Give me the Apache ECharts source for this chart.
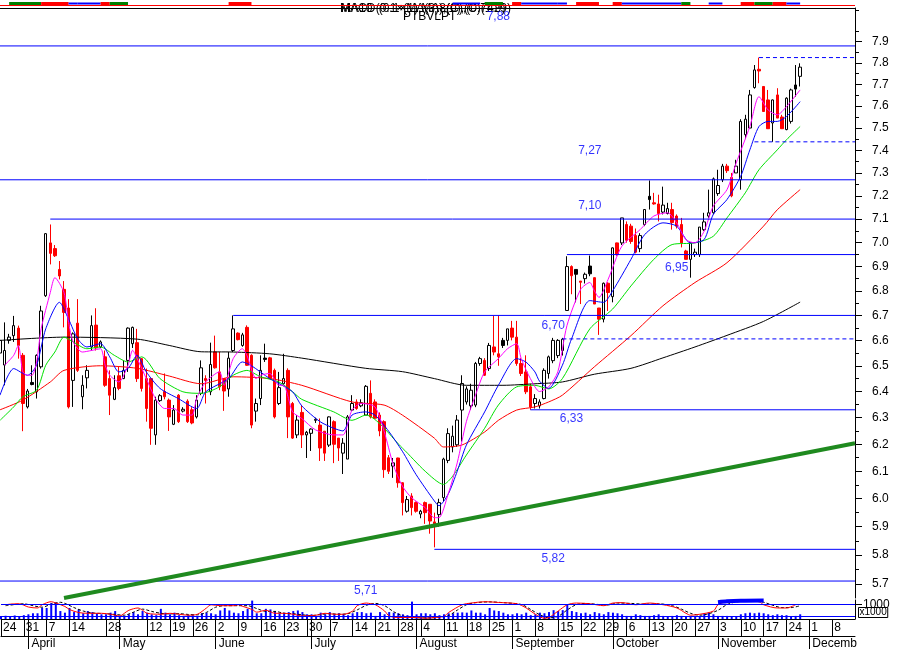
<!DOCTYPE html>
<html>
<head>
<meta charset="utf-8">
<script src="https://cdn.jsdelivr.net/npm/echarts@6.0.0/dist/echarts.min.js"></script>
<style>html,body{margin:0;padding:0;background:#fff;}#chart{width:901px;height:650px;}</style>
</head>
<body>
<div id="chart"></div>
<script>
// ---------------- DATA ----------------
const startDate = '2014-03-24';
const endDate = '2014-12-15';
const holidays = ['2014-04-18', '2014-04-21', '2014-05-05'];

const opens = [6.55,6.503,6.600,6.619,6.649,6.541,6.341,6.435,6.399,6.496,
6.780,6.999,6.975,6.888,6.806,6.730,6.443,6.669,6.380,6.453,
6.574,6.661,6.574,6.535,6.450,6.370,6.461,6.450,6.521,6.587,
6.591,6.528,6.450,6.450,6.235,6.365,6.400,6.367,6.275,6.386,
6.325,6.363,6.330,6.303,6.393,6.450,6.399,6.554,6.476,6.450,
6.410,6.560,6.629,6.580,6.652,6.541,6.325,6.373,6.530,6.531,
6.482,6.354,6.430,6.482,6.354,6.235,6.320,6.235,6.241,6.290,
6.272,6.249,6.197,6.285,6.223,6.167,6.145,6.329,6.360,6.345,
6.310,6.393,6.360,6.310,6.285,6.150,6.119,6.149,6.058,5.955,
6.010,5.986,5.945,5.986,5.980,5.917,5.943,6.004,6.140,6.190,
6.198,6.329,6.360,6.345,6.348,6.509,6.521,6.489,6.574,6.547,
6.600,6.600,6.649,6.613,6.509,6.476,6.418,6.354,6.345,6.373,
6.470,6.520,6.540,6.560,6.720,6.900,6.888,6.840,6.850,6.902,
6.854,6.730,6.685,6.831,6.776,6.999,6.999,7.077,7.070,7.030,
6.975,7.077,7.198,7.170,7.165,7.130,7.124,7.141,7.113,7.077,
6.965,6.930,6.950,6.950,7.055,7.113,7.127,7.210,7.270,7.330,
7.280,7.300,7.270,7.470,7.500,7.685,7.770,7.690,7.628,7.523,
7.651,7.550,7.493,7.530,7.697,7.737];

const closes = [6.60,6.560,6.613,6.659,6.580,6.354,6.402,6.427,6.541,6.718,
7.038,6.955,6.945,6.861,6.712,6.341,6.626,6.482,6.424,6.482,
6.659,6.570,6.594,6.424,6.386,6.415,6.412,6.482,6.649,6.652,
6.450,6.412,6.335,6.260,6.367,6.384,6.380,6.303,6.329,6.285,
6.332,6.285,6.280,6.367,6.492,6.443,6.505,6.492,6.418,6.402,
6.530,6.646,6.603,6.622,6.502,6.272,6.354,6.482,6.525,6.450,
6.303,6.415,6.450,6.303,6.223,6.291,6.235,6.245,6.257,6.294,
6.186,6.167,6.303,6.200,6.186,6.204,6.303,6.354,6.335,6.357,
6.420,6.303,6.298,6.250,6.106,6.100,6.131,6.058,5.986,5.997,
5.968,5.955,5.955,5.950,5.920,5.905,5.986,6.145,6.240,6.230,
6.291,6.431,6.410,6.405,6.509,6.528,6.463,6.580,6.554,6.535,
6.580,6.646,6.613,6.509,6.470,6.399,6.341,6.373,6.360,6.482,
6.535,6.600,6.600,6.605,6.900,6.862,6.868,6.835,6.868,6.870,
6.746,6.685,6.831,6.793,6.978,6.950,7.105,7.010,7.005,6.960,
7.030,7.141,7.184,7.165,7.124,7.160,7.145,7.085,7.070,6.999,
6.930,6.999,6.960,7.066,7.088,7.127,7.274,7.245,7.330,7.310,
7.200,7.330,7.530,7.540,7.651,7.767,7.762,7.575,7.497,7.628,
7.545,7.497,7.636,7.674,7.678,7.780];

const highs = [6.65,6.672,6.626,6.698,6.659,6.550,6.410,6.502,6.545,6.739,
7.040,7.077,6.990,6.923,6.840,6.766,6.632,6.766,6.463,6.502,
6.700,6.729,6.600,6.560,6.482,6.463,6.496,6.521,6.652,6.655,
6.646,6.530,6.489,6.450,6.380,6.390,6.470,6.373,6.348,6.390,
6.340,6.370,6.340,6.386,6.521,6.463,6.591,6.619,6.554,6.452,
6.554,6.700,6.632,6.630,6.660,6.545,6.373,6.541,6.587,6.535,
6.489,6.476,6.547,6.490,6.360,6.310,6.348,6.250,6.260,6.300,
6.297,6.249,6.305,6.290,6.223,6.223,6.310,6.386,6.370,6.370,
6.425,6.443,6.370,6.320,6.290,6.160,6.149,6.150,6.060,6.010,
6.020,5.990,5.960,5.990,5.980,5.950,6.000,6.150,6.260,6.270,
6.310,6.463,6.420,6.430,6.515,6.535,6.530,6.590,6.698,6.700,
6.610,6.646,6.678,6.678,6.530,6.541,6.430,6.390,6.370,6.490,
6.540,6.610,6.605,6.610,6.943,6.905,6.888,6.840,6.875,6.946,
6.855,6.730,6.834,6.835,6.980,7.000,7.105,7.090,7.080,7.060,
7.040,7.141,7.267,7.213,7.205,7.240,7.170,7.170,7.120,7.105,
6.970,7.000,6.975,7.066,7.127,7.227,7.280,7.314,7.340,7.340,
7.300,7.358,7.540,7.560,7.674,7.790,7.825,7.690,7.674,7.630,
7.682,7.560,7.640,7.680,7.790,7.798];

const lows = [6.50,6.424,6.587,6.594,6.528,6.249,6.335,6.424,6.373,6.489,
6.775,6.909,6.940,6.847,6.652,6.335,6.341,6.476,6.332,6.412,
6.560,6.560,6.570,6.418,6.310,6.367,6.405,6.448,6.476,6.570,
6.437,6.400,6.285,6.198,6.198,6.360,6.370,6.250,6.272,6.280,
6.320,6.280,6.275,6.297,6.386,6.354,6.386,6.489,6.405,6.326,
6.380,6.554,6.600,6.575,6.500,6.260,6.285,6.348,6.515,6.448,
6.297,6.348,6.425,6.223,6.220,6.223,6.186,6.149,6.175,6.280,
6.138,6.138,6.190,6.130,6.138,6.090,6.145,6.325,6.330,6.340,
6.310,6.297,6.295,6.230,6.076,6.090,6.076,6.040,5.940,5.950,
5.940,5.950,5.930,5.910,5.875,5.827,5.900,5.990,6.130,6.170,
6.190,6.210,6.350,6.330,6.340,6.500,6.460,6.480,6.541,6.500,
6.570,6.580,6.600,6.500,6.460,6.390,6.330,6.335,6.335,6.370,
6.450,6.510,6.530,6.540,6.720,6.786,6.753,6.746,6.830,6.860,
6.746,6.622,6.672,6.718,6.753,6.945,6.990,7.000,6.995,6.955,
6.960,7.070,7.141,7.162,7.090,7.120,7.120,7.055,7.060,6.980,
6.930,6.854,6.940,6.940,7.050,7.105,7.120,7.200,7.260,7.300,
7.194,7.300,7.227,7.450,7.500,7.680,7.705,7.575,7.497,7.438,
7.545,7.497,7.490,7.520,7.643,7.690];

const volumes = [20,22,20,24,20,26,32,39,39,75,
75,108,110,54,43,75,47,65,39,54,
47,39,32,32,43,54,21,19,32,47,
32,54,43,32,26,69,43,32,43,26,
21,26,26,21,39,43,39,32,58,75,
58,43,39,54,69,125,39,39,69,65,
54,39,43,47,54,58,47,32,32,21,
43,32,47,32,39,32,26,39,47,47,
39,43,21,47,32,47,43,39,32,26,
118,32,39,39,32,39,26,32,39,39,
43,45,43,58,43,43,32,75,58,54,
43,32,32,39,32,43,26,32,43,39,
47,60,54,60,97,54,47,39,43,32,
47,39,32,47,43,39,32,21,21,32,
26,21,21,26,32,21,17,21,26,21,
17,17,21,17,39,43,32,21,21,21,
17,17,32,39,43,39,43,39,32,26,
32,26,26,17,21,32];

// moving averages: [day index, value]
const maBlack = [[0,6.60],[14,6.613],[30,6.605],[37,6.58],[44,6.555],[51,6.554],[59,6.547],[66,6.53],[80,6.49],[88,6.477],[95,6.45],[102,6.424],[110,6.424],[117,6.43],[123,6.437],[130,6.467],[138,6.49],[145,6.531],[152,6.574],[159,6.62],[167,6.676],[175,6.754]];
const maRed = [[0,6.33],[5,6.367],[11,6.437],[14,6.482],[22,6.50],[30,6.49],[37,6.46],[44,6.43],[51,6.457],[59,6.45],[66,6.424],[77,6.36],[84,6.348],[88,6.31],[95,6.223],[97,6.19],[101,6.197],[106,6.246],[109,6.29],[113,6.329],[117,6.341],[120,6.36],[123,6.386],[130,6.496],[138,6.619],[145,6.739],[152,6.834],[159,6.916],[167,7.07],[170,7.14],[175,7.227]];
const maGreen = [[0,6.29],[3,6.341],[5,6.38],[8,6.405],[10,6.502],[12,6.554],[14,6.613],[16,6.594],[19,6.567],[22,6.574],[25,6.541],[28,6.515],[31,6.535],[35,6.45],[40,6.399],[44,6.393],[48,6.418],[51,6.463],[54,6.482],[57,6.457],[61,6.437],[64,6.399],[66,6.37],[73,6.322],[77,6.29],[80,6.31],[88,6.186],[93,6.10],[97,6.052],[99,6.082],[102,6.16],[106,6.26],[109,6.348],[113,6.418],[117,6.424],[120,6.41],[123,6.45],[129,6.646],[134,6.726],[138,6.82],[143,6.93],[147,6.992],[152,6.999],[156,7.027],[159,7.105],[163,7.213],[166,7.314],[170,7.402],[172,7.447],[175,7.507]];
const maBlue = [[0,6.386],[3,6.489],[6,6.463],[8,6.502],[10,6.646],[13,6.753],[15,6.685],[17,6.606],[19,6.574],[22,6.587],[24,6.535],[26,6.476],[28,6.489],[30,6.541],[32,6.476],[35,6.412],[39,6.373],[43,6.335],[45,6.399],[50,6.45],[53,6.515],[55,6.50],[59,6.45],[61,6.431],[64,6.399],[66,6.345],[70,6.285],[73,6.26],[75,6.25],[77,6.31],[80,6.322],[82,6.31],[85,6.249],[88,6.174],[91,6.088],[95,5.992],[96,5.975],[98,6.016],[100,6.10],[102,6.197],[106,6.322],[109,6.424],[113,6.528],[115,6.515],[117,6.476],[118,6.44],[120,6.412],[123,6.502],[125,6.606],[129,6.76],[132,6.753],[134,6.80],[138,6.93],[141,7.034],[145,7.084],[148,7.07],[151,6.999],[154,7.013],[156,7.12],[159,7.184],[162,7.285],[164,7.402],[166,7.507],[168,7.53],[170,7.53],[172,7.552],[175,7.62]];
const maMagenta = [[1,6.502],[3,6.541],[4,6.58],[5,6.476],[6,6.463],[7,6.463],[8,6.515],[9,6.646],[11,6.793],[12,6.854],[14,6.793],[15,6.672],[16,6.594],[18,6.554],[20,6.56],[22,6.567],[23,6.502],[24,6.463],[26,6.437],[28,6.502],[29,6.561],[30,6.528],[32,6.45],[34,6.373],[36,6.335],[38,6.335],[40,6.31],[42,6.31],[43,6.373],[45,6.437],[48,6.476],[49,6.424],[51,6.528],[53,6.567],[54,6.541],[56,6.45],[57,6.463],[59,6.47],[61,6.424],[62,6.424],[64,6.322],[66,6.297],[69,6.254],[73,6.235],[75,6.235],[77,6.329],[79,6.354],[82,6.341],[84,6.249],[86,6.125],[88,6.046],[90,6.004],[93,5.968],[95,5.932],[96,5.932],[98,6.016],[100,6.131],[102,6.285],[104,6.386],[106,6.476],[109,6.528],[111,6.567],[113,6.587],[114,6.528],[116,6.45],[118,6.40],[120,6.418],[122,6.476],[124,6.659],[127,6.806],[129,6.834],[130,6.80],[131,6.773],[133,6.847],[136,6.985],[140,7.055],[143,7.113],[146,7.127],[148,7.084],[150,7.013],[152,6.999],[154,7.048],[156,7.155],[159,7.227],[161,7.343],[164,7.507],[166,7.643],[168,7.582],[170,7.56],[172,7.597],[175,7.674]];

// support / resistance levels
const levels = [7.88, 7.27, 7.10, 6.95, 6.70, 6.33, 5.82, 5.71];
const levelStart = [0, 0, 11, 124, 51, 116, 95, 0];
const levelLabelAt = [109, 129, 129, 148, 121, 125, 121, 80];
const dashedLevels = [7.825, 7.438, 6.606];
const dashedStart = [166, 165, 123];
const trendLine = [[14, 5.652], [187, 6.204]];

// axis ticks
const yTicks = [5.7,5.8,5.9,6.0,6.1,6.2,6.3,6.4,6.5,6.6,6.7,6.8,6.9,7.0,7.1,7.2,7.3,7.4,7.5,7.6,7.7,7.8,7.9];
const yMinorTicks = [5.75,5.85,5.95,6.05,6.15,6.25,6.35,6.45,6.55,6.65,6.75,6.85,6.95,7.05,7.15,7.25,7.35,7.45,7.55,7.65,7.75,7.85,7.95,8.05];
const monthNames = ['January','February','March','April','May','June','July','August','September','October','November','Decemb'];

// lower oscillator panel [day index, value]
const oscRed = [[1,75],[3,80],[4,80],[6,63],[8,58],[9,75],[11,91],[12,84],[14,66],[15,50],[17,34],[19,30],[22,30],[24,25],[26,16],[27,30],[28,46],[30,58],[31,46],[32,30],[35,25],[37,30],[39,25],[41,20],[43,25],[45,58],[46,75],[48,70],[51,70],[52,75],[53,66],[55,50],[56,36],[58,46],[60,30],[62,30],[64,25],[66,16],[69,20],[71,30],[73,25],[75,25],[77,42],[78,70],[80,84],[81,80],[82,75],[84,42],[85,16],[87,8],[89,8],[91,8],[93,4],[95,8],[97,14],[98,34],[101,75],[103,84],[106,91],[109,87],[113,80],[115,58],[117,25],[119,4],[120,8],[122,42],[124,75],[126,84],[129,80],[132,70],[134,84],[136,86],[139,75],[142,84],[145,75],[148,58],[150,30],[151,20],[153,25],[156,42],[157,75],[159,91],[162,95],[166,91],[167,75],[170,58],[172,58],[174,75]];
const oscBlack = [[1,70],[3,76],[5,80],[7,70],[9,62],[11,78],[13,88],[14,82],[16,60],[18,42],[20,32],[23,28],[25,24],[27,20],[29,36],[31,52],[33,40],[35,30],[37,27],[39,28],[41,24],[43,22],[45,35],[47,62],[49,70],[52,70],[54,70],[56,55],[58,40],[60,40],[62,30],[64,28],[66,22],[68,18],[70,24],[72,28],[74,25],[76,28],[78,48],[80,72],[82,82],[84,70],[86,38],[88,16],[90,8],[92,6],[94,6],[96,10],[98,18],[100,48],[102,76],[104,86],[107,90],[110,86],[114,76],[116,50],[118,22],[120,6],[122,14],[124,48],[126,76],[128,82],[131,76],[133,74],[135,84],[138,82],[141,78],[144,80],[147,70],[149,52],[151,30],[153,20],[155,28],[157,46],[159,76],[161,90],[164,94],[167,88],[169,72],[171,60],[173,60],[175,70]];
const oscHot = [[157,88],[159,93],[162,96],[167,97]];
const volumeRefs = [100, 20];

// top signal strip: [from, to, kind]
const stripSegments = [[2,9,'g'],[9,15,'r'],[15,17,'b'],[17,22,'b'],[22,24,'r'],[24,28,'g'],[50,55,'r'],[99,105,'b'],[106,110,'g'],[112,114,'r'],[114,122,'b'],[122,124,'b'],[126,131,'r'],[134,136,'r'],[136,149,'b'],[149,151,'g'],[155,158,'b'],[162,165,'r'],[165,169,'g'],[169,172,'r'],[172,175,'b']];

// ---------------- BUILD ----------------
const dates = [];
(function () {
  const d = new Date(startDate + 'T00:00:00Z');
  const e = new Date(endDate + 'T00:00:00Z');
  while (d <= e) {
    const wd = d.getUTCDay();
    const s = d.toISOString().slice(0, 10);
    if (wd !== 0 && wd !== 6 && holidays.indexOf(s) < 0) dates.push(s);
    d.setUTCDate(d.getUTCDate() + 1);
  }
})();
const last = dates.length - 1;
const dayOfWeek = s => new Date(s + 'T00:00:00Z').getUTCDay();
const isWeekTick = i => i < last && dayOfWeek(dates[i]) === 1;
const isMonthTick = i => i > 0 && i < last && dates[i].slice(5, 7) !== dates[i - 1].slice(5, 7);

const candleData = opens.map((o, i) => {
  const c = closes[i];
  const pc = i > 0 ? closes[i - 1] : c;
  let fill, border;
  if (c > o) { fill = '#ffffff'; border = '#000000'; }
  else if (c < o && c < pc) { fill = '#ff0000'; border = '#ff0000'; }
  else { fill = '#000000'; border = '#000000'; }
  return { value: [o, c, lows[i], highs[i]], itemStyle: { color: fill, color0: fill, borderColor: border, borderColor0: border } };
});

const FONT = 'Arial, "Liberation Sans", sans-serif';
const BLUE = '#0000ff';
const fmtLevel = v => v.toFixed(2).replace('.', ',');
const levelLabelDy = [-29, -29, -13, 13, 10, 9, 9, 10];
const stripColors = { g: '#008000', r: '#ff0000', b: '#0000ff' };

const series = [];
series.push({
  type: 'candlestick', xAxisIndex: 0, yAxisIndex: 0, data: candleData,
  barWidth: 3, z: 2, silent: true, clip: true,
  itemStyle: { borderWidth: 1 }
});
const maDefs = [[maBlack, '#000000'], [maRed, '#ff0000'], [maGreen, '#00e000'], [maBlue, '#0000ff'], [maMagenta, '#ff00ff']];
maDefs.forEach(([d, col]) => series.push({
  type: 'line', xAxisIndex: 0, yAxisIndex: 0, data: d, symbol: 'none', smooth: 0.25,
  lineStyle: { color: col, width: 1 }, z: 3, silent: true, animation: false
}));
levels.forEach((lv, k) => series.push({
  type: 'line', xAxisIndex: 0, yAxisIndex: 0, data: [[levelStart[k], lv], [last, lv]], symbol: 'none',
  lineStyle: { color: BLUE, width: 1 }, z: 4, silent: true
}));
dashedLevels.forEach((lv, k) => series.push({
  type: 'line', xAxisIndex: 0, yAxisIndex: 0, data: [[dashedStart[k], lv], [last, lv]], symbol: 'none',
  lineStyle: { color: BLUE, width: 1, type: [4, 3] }, z: 4, silent: true
}));
series.push({
  type: 'line', xAxisIndex: 0, yAxisIndex: 0, data: trendLine, symbol: 'none',
  lineStyle: { color: '#1f8a1f', width: 4 }, z: 5, silent: true
});
series.push({
  type: 'scatter', xAxisIndex: 0, yAxisIndex: 0, symbolSize: 0, silent: true, z: 6,
  data: levels.map((lv, k) => ({ value: [levelLabelAt[k], lv], label: { offset: [0, levelLabelDy[k]] } })),
  label: { show: true, position: 'inside', formatter: p => fmtLevel(p.value[1]), color: BLUE, fontSize: 12, fontFamily: FONT }
});
// lower panel
series.push({
  type: 'bar', xAxisIndex: 1, yAxisIndex: 2, data: volumes, barWidth: 2, silent: true,
  itemStyle: { color: BLUE },
  markLine: { silent: true, symbol: 'none', label: { show: false }, lineStyle: { color: BLUE, width: 1, type: 'solid' },
    data: volumeRefs.map(v => ({ yAxis: v })) }
});
series.push({ type: 'line', xAxisIndex: 1, yAxisIndex: 3, data: oscBlack, symbol: 'none', smooth: 0.3,
  lineStyle: { color: '#000', width: 1, type: [3, 2] }, z: 3, silent: true });
series.push({ type: 'line', xAxisIndex: 1, yAxisIndex: 3, data: oscRed, symbol: 'none', smooth: 0.3,
  lineStyle: { color: '#ff0000', width: 1 }, z: 4, silent: true });
series.push({ type: 'line', xAxisIndex: 1, yAxisIndex: 3, data: oscHot, symbol: 'none', smooth: 0.3,
  lineStyle: { color: BLUE, width: 4 }, z: 5, silent: true });
// top strip
series.push({ type: 'line', xAxisIndex: 4, yAxisIndex: 4, data: [[0, 2.5], [last, 2.5]], symbol: 'none',
  lineStyle: { color: '#ff0000', width: 1 }, silent: true });
stripSegments.forEach(([a, b, k]) => series.push({
  type: 'line', xAxisIndex: 4, yAxisIndex: 4, data: [[a, 4.5], [b, 4.5]], symbol: 'none',
  lineStyle: { color: stripColors[k], width: k === 'b' ? 2 : 3 }, silent: true
}));

const option = {
  animation: false,
  backgroundColor: '#ffffff',
  textStyle: { fontFamily: FONT },
  grid: [
    { left: -3, right: 46, top: 8, height: 590 },
    { left: -3, right: 46, top: 600, height: 20 },
    { left: -3, right: 46, top: 1, height: 7 }
  ],
  xAxis: [
    { type: 'category', gridIndex: 0, data: dates, boundaryGap: false, position: 'top',
      axisLine: { show: true, lineStyle: { color: '#000' } }, axisTick: { show: false }, axisLabel: { show: false }, splitLine: { show: false } },
    { type: 'category', gridIndex: 1, data: dates, boundaryGap: false, position: 'bottom',
      axisLine: { show: true, lineStyle: { color: '#000' } },
      axisTick: { show: true, interval: isWeekTick, length: 17, lineStyle: { color: '#000' } },
      axisLabel: { show: true, interval: isWeekTick, formatter: v => String(+v.slice(8)), align: 'left', padding: [0, 0, 0, 2], margin: 3, color: '#000', fontSize: 12, fontFamily: FONT },
      splitLine: { show: false } },
    { type: 'category', gridIndex: 1, data: dates, boundaryGap: false, position: 'bottom',
      axisLine: { show: false },
      axisTick: { show: true, interval: isMonthTick, length: 30, lineStyle: { color: '#000' } },
      axisLabel: { show: true, interval: isMonthTick, formatter: v => monthNames[+v.slice(5, 7) - 1], align: 'left', padding: [0, 0, 0, 3], margin: 19, color: '#000', fontSize: 12, fontFamily: FONT },
      splitLine: { show: false } },
    { type: 'category', gridIndex: 1, data: dates, boundaryGap: false, position: 'bottom', offset: 17,
      axisLine: { show: true, lineStyle: { color: '#000' } }, axisTick: { show: false }, axisLabel: { show: false } },
    { type: 'category', gridIndex: 2, data: dates, boundaryGap: false, position: 'top',
      axisLine: { show: true, lineStyle: { color: '#000' } }, axisTick: { show: false }, axisLabel: { show: false } }
  ],
  yAxis: [
    { type: 'log', logBase: 10, gridIndex: 0, position: 'right', min: 5.652, max: 8.062,
      axisLine: { show: true, lineStyle: { color: '#000' } },
      axisTick: { show: true, customValues: yTicks, length: 7, lineStyle: { color: '#000' } },
      axisLabel: { show: true, customValues: yTicks, formatter: v => Number(v).toFixed(1), margin: 17, color: '#000', fontSize: 12, fontFamily: FONT },
      splitLine: { show: false } },
    { type: 'log', logBase: 10, gridIndex: 0, position: 'right', min: 5.652, max: 8.062,
      axisLine: { show: false },
      axisTick: { show: true, customValues: yMinorTicks, length: 4, lineStyle: { color: '#000' } },
      axisLabel: { show: false }, splitLine: { show: false } },
    { type: 'value', gridIndex: 1, position: 'right', min: 0, max: 129,
      axisLine: { show: true, lineStyle: { color: '#000' } },
      axisTick: { show: true, customValues: [100], length: 7, lineStyle: { color: '#000' } },
      axisLabel: { show: true, customValues: [100], formatter: () => '1000', margin: 8, color: '#000', fontSize: 12, fontFamily: FONT, verticalAlign: 'middle' },
      splitLine: { show: false } },
    { type: 'value', gridIndex: 1, min: 0, max: 100, show: false },
    { type: 'value', gridIndex: 2, min: 0, max: 7, show: false }
  ],
  graphic: [
    { type: 'text', left: 340, top: 3, silent: true, style: { text: 'MACD (0.1×MA(3)),(C),(0.7429)', font: '12px ' + FONT, fill: '#000' } },
    { type: 'text', left: 341, top: 3, silent: true, style: { text: 'MA10 (0.1×(1),MA8(0),(C)(1.9)', font: '12px ' + FONT, fill: '#000' } },
    { type: 'text', left: 403, top: 11, silent: true, style: { text: 'PTBVLPT', font: '12px ' + FONT, fill: '#000' } },
    { type: 'text', left: 858, top: 607, silent: true, style: { text: 'x1000', font: '10px ' + FONT, fill: '#000', borderColor: '#000', borderWidth: 1, padding: [0, 1, 0, 1] } }
  ],
  series: series
};

const chart = echarts.init(document.getElementById('chart'), null, { renderer: 'canvas' });
chart.setOption(option);
</script>
</body>
</html>
